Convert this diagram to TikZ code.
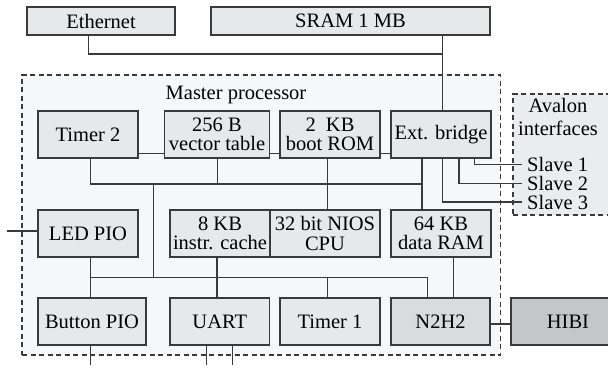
\documentclass[tikz,border=0pt]{standalone}
\usepackage{fontspec}
\setmainfont{Liberation Serif}
\definecolor{linec}{HTML}{3A3A3C}
\definecolor{boxfill}{HTML}{E7E8EA}
\definecolor{areafill}{HTML}{F6F7F9}
\definecolor{avfill}{HTML}{EBECEE}
\definecolor{nfill}{HTML}{D9DBDE}
\definecolor{hfill}{HTML}{C4C6CA}
\begin{document}
\begin{tikzpicture}[x=1pt,y=-1pt,
  blk/.style={draw=linec, line width=1.2pt, fill=boxfill, inner sep=0pt,
    minimum width=100pt, minimum height=47pt, align=center,
    font=\fontsize{20.5}{19.5}\selectfont},
  area/.style={draw=linec, line width=1.1pt, dash pattern=on 5pt off 3.5pt,
    inner sep=0pt},
  lbl/.style={inner sep=0pt, align=center, font=\fontsize{20.5}{22}\selectfont},
  wire/.style={draw=linec, line width=1.1pt}]
\useasboundingbox (0,0) rectangle (608,367);

% external memories
\node[blk, minimum width=148pt, minimum height=28pt] (eth) at (101,21) {Ethernet};
\node[blk, minimum width=279pt, minimum height=28pt] (sram) at (350.5,21) {SRAM 1 MB};

% processor area and Avalon area
\node[area, fill=areafill, minimum width=478.7pt, minimum height=280pt] (master) at (261.35,215) {};
\node[lbl] (mtitle) at (236,95) {Master processor};
\node[area, fill=avfill, minimum width=116pt, minimum height=121pt] (avalon) at (571,154.5) {};
\node[lbl, font=\fontsize{20.5}{23}\selectfont] (avtitle) at (558,117) {Avalon\\interfaces};

% top row
\node[blk] (timer2) at (88,134.5) {Timer 2};
\node[blk, minimum width=105pt] (vec) at (217,134.5) {256 B\\vector table};
\node[blk] (rom) at (330,134.5) {2\ \ KB\\boot ROM};
\node[blk] (bridge) at (441,134.5) {Ext. bridge};

% middle row
\node[blk] (led) at (88,233.5) {LED PIO};
\node[blk] (cache) at (220,233.5) {8 KB\\instr. cache};
\node[blk, minimum width=110pt] (cpu) at (325,233.5) {32 bit NIOS\\CPU};
\node[blk] (ram) at (441,233.5) {64 KB\\data RAM};

% bottom row
\node[blk, minimum width=108pt] (button) at (92,321.5) {Button PIO};
\node[blk, minimum width=99.5pt] (uart) at (219.75,321.5) {UART};
\node[blk] (timer1) at (330,321.5) {Timer 1};
\node[blk, fill=nfill, minimum width=99pt] (n2h2) at (440.5,321.5) {N2H2};
\node[blk, fill=hfill, minimum width=114pt] (hibi) at (568,321.5) {HIBI};

% slave labels
\node[lbl, anchor=west, inner xsep=5pt] (s1) at (522,164.5) {Slave 1};
\node[lbl, anchor=west, inner xsep=5pt] (s2) at (522,183.5) {Slave 2};
\node[lbl, anchor=west, inner xsep=5pt] (s3) at (522,202) {Slave 3};

% free ends
\coordinate (ledin) at (6.7,231);
\coordinate (bout) at (90.7,365);
\coordinate (uout1) at (206.7,365);
\coordinate (uout2) at (232.3,365);

% external bus
\draw[wire] (88.7,0 |- eth.south) |- (442.7,54);
\draw[wire] (442.7,0 |- sram.south) -- (442.7,0 |- bridge.north);

% top row links
\draw[wire] (timer2.east |- 0,153.3) -- (vec.west |- 0,153.3);
\draw[wire] (vec.east |- 0,153.3) -- (rom.west |- 0,153.3);
\draw[wire] (rom.east |- 0,153.3) -- (bridge.west |- 0,153.3);

% upper bus
\draw[wire] (90.7,0 |- timer2.south) |- (422,184);
\draw[wire] (217.3,0 |- vec.south) -- (217.3,184);
\draw[wire] (422,0 |- bridge.south) -- (422,0 |- ram.north);
\draw[wire] (327.3,0 |- rom.south) -- (327.3,0 |- cpu.north);
\draw[wire] (153.7,184) -- (153.7,277.7);

% lower bus
\draw[wire] (90.7,0 |- led.south) -- (90.7,0 |- button.north);
\draw[wire] (90.7,277.7) -| (427.7,0 |- n2h2.north);
\draw[wire] (217,0 |- cache.south) -- (217,0 |- uart.north);
\draw[wire] (327.3,277.7) -- (327.3,0 |- timer1.north);
\draw[wire] (453.7,0 |- ram.south) -- (453.7,0 |- n2h2.north);

% slave ports
\draw[wire] (474.7,0 |- bridge.south) |- (s1.west);
\draw[wire] (459,0 |- bridge.south) |- (s2.west);
\draw[wire] (442.7,0 |- bridge.south) |- (s3.west);

% outside connections
\draw[wire] (ledin) -- (led.west |- ledin);
\draw[wire] (bout |- button.south) -- (bout);
\draw[wire] (uout1 |- uart.south) -- (uout1);
\draw[wire] (uout2 |- uart.south) -- (uout2);
\draw[wire] (n2h2.east |- 0,324) -- (hibi.west |- 0,324);
\end{tikzpicture}
\end{document}
